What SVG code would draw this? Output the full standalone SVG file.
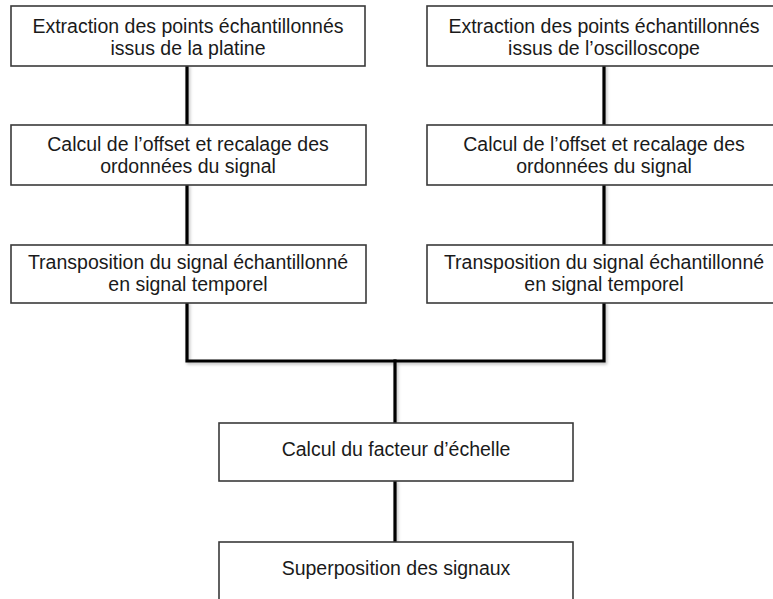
<svg xmlns="http://www.w3.org/2000/svg" width="773" height="599" viewBox="0 0 773 599">
<style>
.box{fill:#fff;stroke:#3a3a3a;stroke-width:1.6}
.t{font-family:"Liberation Sans",Arial,sans-serif;font-size:19.5px;fill:#1a1a1a;text-anchor:middle}
.c{fill:none;stroke:#000;stroke-width:3.2;stroke-linejoin:miter;stroke-linecap:square}
</style>
<defs>
<filter id="sh" x="-5%" y="-5%" width="110%" height="120%">
<feDropShadow dx="1.5" dy="2" stdDeviation="1.5" flood-color="#000" flood-opacity="0.25"/>
</filter>
</defs>
<rect width="773" height="599" fill="#fff"/>
<g id="connectors" filter="url(#sh)">
<path class="c" d="M187,66 V125"/>
<path class="c" d="M187,185 V245"/>
<path class="c" d="M604,66 V125"/>
<path class="c" d="M604,185 V245"/>
<path class="c" d="M187,303 V361 H604 V303"/>
<path class="c" d="M395,361 V423"/>
<path class="c" d="M395,481 V542"/>
</g>
<g id="n1"><rect class="box" x="11" y="6" width="354" height="60"/><text class="t" x="188" y="33">Extraction des points échantillonnés</text><text class="t" x="188" y="55">issus de la platine</text></g>
<g id="n2"><rect class="box" x="427" y="6" width="356" height="60"/><text class="t" x="604" y="33">Extraction des points échantillonnés</text><text class="t" x="604" y="55">issus de l’oscilloscope</text></g>
<g id="n3"><rect class="box" x="11" y="125" width="355" height="60"/><text class="t" x="188" y="151">Calcul de l’offset et recalage des</text><text class="t" x="188" y="173">ordonnées du signal</text></g>
<g id="n4"><rect class="box" x="427" y="125" width="356" height="60"/><text class="t" x="604" y="151">Calcul de l’offset et recalage des</text><text class="t" x="604" y="173">ordonnées du signal</text></g>
<g id="n5"><rect class="box" x="11" y="245" width="355" height="58"/><text class="t" x="188" y="269">Transposition du signal échantillonné</text><text class="t" x="188" y="291">en signal temporel</text></g>
<g id="n6"><rect class="box" x="427" y="245" width="356" height="58"/><text class="t" x="604" y="269">Transposition du signal échantillonné</text><text class="t" x="604" y="291">en signal temporel</text></g>
<g id="n7"><rect class="box" x="219" y="423" width="354" height="58"/><text class="t" x="396" y="456">Calcul du facteur d’échelle</text></g>
<g id="n8"><rect class="box" x="219" y="542" width="354" height="70"/><text class="t" x="396" y="575">Superposition des signaux</text></g>
</svg>
